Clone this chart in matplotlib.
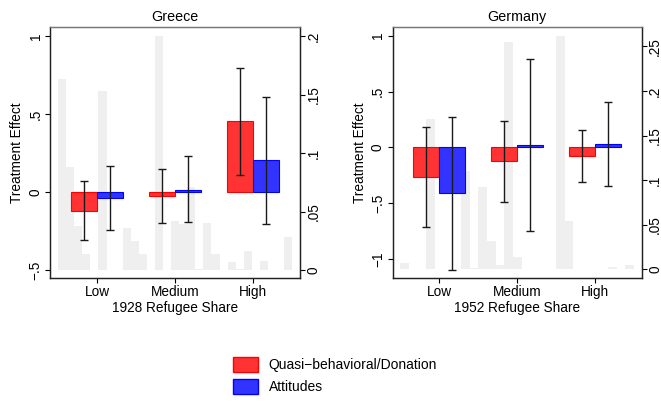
import numpy as np
import matplotlib
matplotlib.use('Agg')
from matplotlib import pyplot as plt
from matplotlib.patches import Patch

plt.rcParams['font.family'] = ['Liberation Sans', 'DejaVu Sans']

groups = ['Low', 'Medium', 'High']
series_names = ['Quasi\u2212behavioral/Donation', 'Attitudes']

# Greece (1928 refugee share)
greece_behav = [-0.124, -0.028, 0.455]
greece_behav_lo = [-0.31, -0.20, 0.109]
greece_behav_hi = [0.068, 0.15, 0.797]
greece_att = [-0.035, 0.015, 0.203]
greece_att_lo = [-0.244, -0.195, -0.207]
greece_att_hi = [0.169, 0.23, 0.611]
greece_hist = [0.163, 0.088, 0.038, 0.014, 0, 0.153, 0, 0, 0.036, 0.025,
               0.014, 0, 0.200, 0, 0.042, 0.039, 0.071, 0.001, 0.040, 0.014,
               0, 0.0065, 0.001, 0.0165, 0, 0.008, 0, 0, 0.028]

# Germany (1952 refugee share)
germany_behav = [-0.263, -0.125, -0.075]
germany_behav_lo = [-0.711, -0.492, -0.313]
germany_behav_hi = [0.179, 0.238, 0.158]
germany_att = [-0.412, 0.023, 0.03]
germany_att_lo = [-1.098, -0.747, -0.346]
germany_att_hi = [0.274, 0.793, 0.408]
germany_hist = [0.0074, 0, 0, 0.168, 0, 0, 0, 0.11, 0.002, 0.092,
                0.032, 0.005, 0.255, 0.014, 0, 0, 0, 0, 0.262, 0.0545,
                0, 0, 0, 0, 0.003, 0, 0.005]

greece_yticks = [-0.5, 0, 0.5, 1]
greece_ylabels = ['\u2212.5', '0', '.5', '1']
germany_yticks = [-1, -0.5, 0, 0.5, 1]
germany_ylabels = ['\u22121', '\u2212.5', '0', '.5', '1']
greece_hticks = [0, 0.05, 0.1, 0.15, 0.2]
greece_hlabels = ['0', '.05', '.1', '.15', '.2']
germany_hticks = [0, 0.05, 0.1, 0.15, 0.2, 0.25]
germany_hlabels = ['0', '.05', '.1', '.15', '.2', '.25']

RED = '#ff3333'
BLUE = '#3333ff'
FS = 9.8

fig = plt.figure(figsize=(6.61, 4.03), dpi=100)
W, H = 661.0, 403.0


def panel(left_px, right_px, title, xlabel, behav, blo, bhi, att, alo, ahi,
          hist, ylim, hlim, yticks, ylabels, hticks, hlabels):
    rect = [left_px / W, 1 - 277.7 / H, (right_px - left_px) / W, (277.7 - 27.3) / H]
    ax = fig.add_axes(rect)
    axh = ax.twinx()
    ax.set_zorder(axh.get_zorder() + 1)
    ax.patch.set_visible(False)

    # histogram of the share in the background
    edges = np.linspace(0.5, 3.5, len(hist) + 1)
    axh.bar(edges[:-1], hist, width=edges[1] - edges[0], align='edge',
            color='#efefef', linewidth=0)

    x = np.arange(1, 4)
    w = 1 / 3
    behav, blo, bhi = np.array(behav), np.array(blo), np.array(bhi)
    att, alo, ahi = np.array(att), np.array(alo), np.array(ahi)
    ax.bar(x - w / 2, behav, w, color=RED, edgecolor='#ff0000', linewidth=0.8)
    ax.bar(x + w / 2, att, w, color=BLUE, edgecolor='#0000ff', linewidth=0.8)
    ax.errorbar(x - w / 2, behav, yerr=[behav - blo, bhi - behav], fmt='none',
                ecolor='#1a1a1a', elinewidth=1, capsize=2.8, capthick=1)
    ax.errorbar(x + w / 2, att, yerr=[att - alo, ahi - att], fmt='none',
                ecolor='#1a1a1a', elinewidth=1, capsize=2.8, capthick=1)

    ax.set_xlim(0.4, 3.6)
    ax.set_ylim(*ylim)
    axh.set_ylim(*hlim)
    ax.set_xticks(x)
    ax.set_xticklabels(groups, fontsize=FS)
    ax.set_yticks(yticks)
    ax.set_yticklabels(ylabels, fontsize=FS, rotation=90, va='center')
    axh.set_yticks(hticks)
    axh.set_yticklabels(hlabels, fontsize=FS, rotation=90, va='center')
    ax.tick_params(axis='both', direction='out', length=3.6, width=0.8, pad=2)
    axh.tick_params(axis='y', direction='out', length=3.6, width=0.8, pad=1)

    for a in (ax, axh):
        for s in a.spines.values():
            s.set_linewidth(0.9)
            s.set_color('#222222')
        a.spines['top'].set_color('#777777')

    ax.set_title(title, fontsize=10.3, pad=4.5)
    ax.set_xlabel(xlabel, fontsize=FS, labelpad=1)
    ax.set_ylabel('Treatment Effect', fontsize=FS, labelpad=3)
    return ax


panel(50.3, 300.0, 'Greece', '1928 Refugee Share',
      greece_behav, greece_behav_lo, greece_behav_hi,
      greece_att, greece_att_lo, greece_att_hi, greece_hist,
      (-0.549, 1.056), (-0.0065, 0.2075),
      greece_yticks, greece_ylabels, greece_hticks, greece_hlabels)

panel(392.7, 641.7, 'Germany', '1952 Refugee Share',
      germany_behav, germany_behav_lo, germany_behav_hi,
      germany_att, germany_att_lo, germany_att_hi, germany_hist,
      (-1.167, 1.075), (-0.0094, 0.2713),
      germany_yticks, germany_ylabels, germany_hticks, germany_hlabels)

handles = [Patch(facecolor=RED, edgecolor='#ff0000', label=series_names[0]),
           Patch(facecolor=BLUE, edgecolor='#0000ff', label=series_names[1])]
fig.legend(handles=handles, loc='upper left',
           bbox_to_anchor=(232.7 / W, 1 - 357 / H), frameon=False,
           fontsize=10, handlelength=1.85, handleheight=1.3,
           handletextpad=0.75, labelspacing=0.5, borderpad=0,
           borderaxespad=0)

plt.savefig('out.png', dpi=100)
